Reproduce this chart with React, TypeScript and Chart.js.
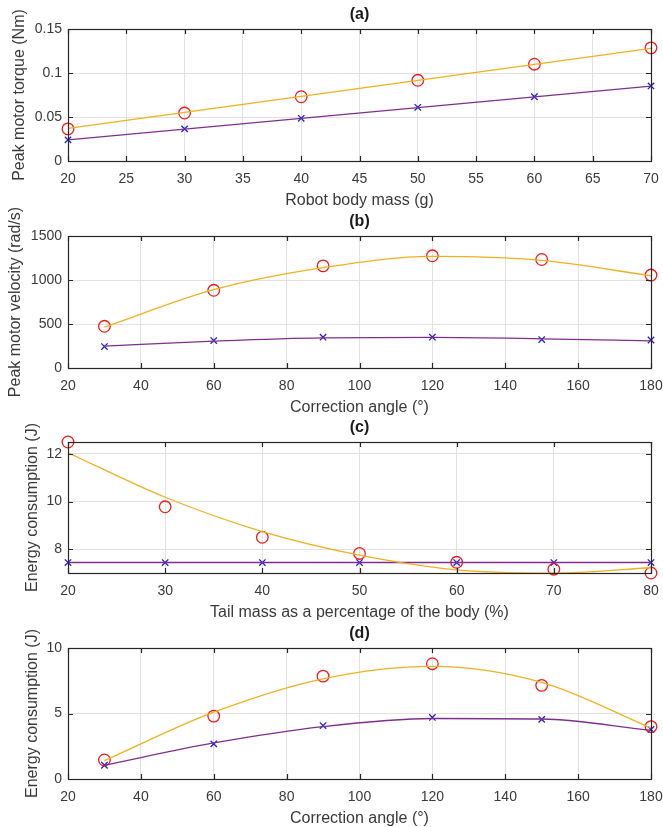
import React, { useEffect, useRef } from "react";
import { Chart, registerables } from "chart.js";

Chart.register(...registerables);

// ---------- (a) Peak motor torque vs robot body mass ----------
const titleA = "(a)";
const xLabelA = "Robot body mass (g)";
const yLabelA = "Peak motor torque (Nm)";
const massX = [20, 30, 40, 50, 60, 70];
const torqueCircles = [0.0365, 0.0545, 0.073, 0.0917, 0.11, 0.1286];
const torqueCrosses = [0.024, 0.0365, 0.0485, 0.061, 0.073, 0.0853];
const torqueFitOrange = [0.037, 0.0552, 0.0734, 0.0916, 0.1098, 0.128];
const torqueFitPurple = [0.024, 0.0362, 0.0484, 0.0606, 0.0728, 0.085];
const xTicksA = [20, 25, 30, 35, 40, 45, 50, 55, 60, 65, 70];
const xTickLabelsA = ["20", "25", "30", "35", "40", "45", "50", "55", "60", "65", "70"];
const yTicksA = [0, 0.05, 0.1, 0.15];
const yTickLabelsA = ["0", "0.05", "0.1", "0.15"];

// ---------- (b) Peak motor velocity vs correction angle ----------
const titleB = "(b)";
const xLabelB = "Correction angle (°)";
const yLabelB = "Peak motor velocity (rad/s)";
const angleX = [30, 60, 90, 120, 150, 180];
const velocityCircles = [474, 883, 1160, 1275, 1233, 1056];
const velocityCrosses = [244, 312, 350, 350, 323, 318];
const velocityFitOrange = [465, 890, 1140, 1268, 1222, 1048];
const velocityFitPurple = [248, 305, 342, 347, 332, 308];
const xTicksAngle = [20, 40, 60, 80, 100, 120, 140, 160, 180];
const xTickLabelsAngle = ["20", "40", "60", "80", "100", "120", "140", "160", "180"];
const yTicksB = [0, 500, 1000, 1500];
const yTickLabelsB = ["0", "500", "1000", "1500"];

// ---------- (c) Energy consumption vs tail mass ----------
const titleC = "(c)";
const xLabelC = "Tail mass as a percentage of the body (%)";
const yLabelC = "Energy consumption (J)";
const tailX = [20, 30, 40, 50, 60, 70, 80];
const energyTailCircles = [12.5, 9.78, 8.5, 7.82, 7.45, 7.16, 7.0];
const energyTailCrosses = [7.44, 7.44, 7.44, 7.44, 7.44, 7.44, 7.44];
const energyTailFitOrange = [12.05, 10.18, 8.74, 7.75, 7.13, 6.99, 7.22];
const energyTailFitPurple = [7.44, 7.44, 7.44, 7.44, 7.44, 7.44, 7.44];
const xTicksC = [20, 30, 40, 50, 60, 70, 80];
const xTickLabelsC = ["20", "30", "40", "50", "60", "70", "80"];
const yTicksC = [8, 10, 12];
const yTickLabelsC = ["8", "10", "12"];

// ---------- (d) Energy consumption vs correction angle ----------
const titleD = "(d)";
const xLabelD = "Correction angle (°)";
const yLabelD = "Energy consumption (J)";
const energyAngleCircles = [1.45, 4.8, 7.85, 8.8, 7.15, 4.0];
const energyAngleCrosses = [1.05, 2.68, 4.08, 4.7, 4.55, 3.78];
const energyAngleFitOrange = [1.4, 5.1, 7.65, 8.6, 7.38, 3.9];
const energyAngleFitPurple = [1.05, 2.75, 4.0, 4.62, 4.58, 3.72];
const yTicksD = [0, 5, 10];
const yTickLabelsD = ["0", "5", "10"];

const ORANGE = "#EDB120";
const PURPLE = "#7E2F8E";
const RED = "#ee1c1c";
const BLUE = "#1f1fd6";
const GRID = "#e2e2e2";
const AXIS = "#262626";
const TEXT = "#3a3a3a";
const FONT = "'Liberation Sans', Arial, Helvetica, sans-serif";

type Panel = {
  title: string;
  xLabel: string;
  yLabel: string;
  xs: number[];
  circles: number[];
  crosses: number[];
  fitOrange: number[];
  fitPurple: number[];
  xMin: number;
  xMax: number;
  xTicks: number[];
  xTickLabels: string[];
  yMin: number;
  yMax: number;
  yTicks: number[];
  yTickLabels: string[];
  smooth: boolean;
};

const panels: Panel[] = [
  {
    title: titleA, xLabel: xLabelA, yLabel: yLabelA, xs: massX,
    circles: torqueCircles, crosses: torqueCrosses, fitOrange: torqueFitOrange, fitPurple: torqueFitPurple,
    xMin: 20, xMax: 70, xTicks: xTicksA, xTickLabels: xTickLabelsA,
    yMin: 0, yMax: 0.15, yTicks: yTicksA, yTickLabels: yTickLabelsA, smooth: false,
  },
  {
    title: titleB, xLabel: xLabelB, yLabel: yLabelB, xs: angleX,
    circles: velocityCircles, crosses: velocityCrosses, fitOrange: velocityFitOrange, fitPurple: velocityFitPurple,
    xMin: 20, xMax: 180, xTicks: xTicksAngle, xTickLabels: xTickLabelsAngle,
    yMin: 0, yMax: 1500, yTicks: yTicksB, yTickLabels: yTickLabelsB, smooth: true,
  },
  {
    title: titleC, xLabel: xLabelC, yLabel: yLabelC, xs: tailX,
    circles: energyTailCircles, crosses: energyTailCrosses, fitOrange: energyTailFitOrange, fitPurple: energyTailFitPurple,
    xMin: 20, xMax: 80, xTicks: xTicksC, xTickLabels: xTickLabelsC,
    yMin: 7.0, yMax: 12.5, yTicks: yTicksC, yTickLabels: yTickLabelsC, smooth: true,
  },
  {
    title: titleD, xLabel: xLabelD, yLabel: yLabelD, xs: angleX,
    circles: energyAngleCircles, crosses: energyAngleCrosses, fitOrange: energyAngleFitOrange, fitPurple: energyAngleFitPurple,
    xMin: 20, xMax: 180, xTicks: xTicksAngle, xTickLabels: xTickLabelsAngle,
    yMin: 0, yMax: 10, yTicks: yTicksD, yTickLabels: yTickLabelsD, smooth: true,
  },
];

// layout of each panel (pixels)
const PAD_TOP = 29;
const PAD_RIGHT = 12;
const X_AXIS_H = 54;
const Y_AXIS_W = 68;
const PLOT_TOPS = [29, 236, 442, 648];
const PLOT_HEIGHTS = [132, 132, 131, 131];
const Y_TITLE_PADS = [10, 6, 23, 23];

const framePlugin = {
  id: "frame",
  afterDraw(chart: any, _args: any, opts: any) {
    const { ctx, chartArea } = chart;
    const { left, right, top, bottom } = chartArea;
    const xs = chart.scales.x;
    const ys = chart.scales.y;
    ctx.save();
    ctx.strokeStyle = AXIS;
    ctx.lineWidth = 1.2;
    ctx.beginPath();
    const tl = 5;
    xs.ticks.forEach((t: any) => {
      const px = Math.round(xs.getPixelForValue(t.value)) + 0.5;
      ctx.moveTo(px, bottom);
      ctx.lineTo(px, bottom - tl);
      ctx.moveTo(px, top);
      ctx.lineTo(px, top + tl);
    });
    ys.ticks.forEach((t: any) => {
      const py = Math.round(ys.getPixelForValue(t.value)) + 0.5;
      ctx.moveTo(left, py);
      ctx.lineTo(left + tl, py);
      ctx.moveTo(right, py);
      ctx.lineTo(right - tl, py);
    });
    ctx.stroke();
    ctx.strokeRect(Math.round(left) + 0.5, Math.round(top) + 0.5, Math.round(right - left), Math.round(bottom - top));
    if (opts && opts.title) {
      ctx.fillStyle = "#1a1a1a";
      ctx.font = `bold 16px ${FONT}`;
      ctx.textAlign = "center";
      ctx.textBaseline = "middle";
      ctx.fillText(opts.title, (left + right) / 2, top - 14);
    }
    ctx.restore();
  },
};

function PanelChart({ p, top, plotH, yPad }: { p: Panel; top: number; plotH: number; yPad: number }) {
  const ref = useRef<HTMLCanvasElement>(null);
  const H = PAD_TOP + plotH + X_AXIS_H;
  useEffect(() => {
    const pts = (ys: number[]) => p.xs.map((x, i) => ({ x, y: ys[i] }));
    const lineCommon = {
      pointRadius: 0,
      borderWidth: 1.3,
      fill: false,
      tension: p.smooth ? 0.4 : 0,
      cubicInterpolationMode: p.smooth ? "monotone" : "default",
    };
    const chart = new Chart(ref.current as HTMLCanvasElement, {
      type: "line",
      data: {
        datasets: [
          { ...lineCommon, data: pts(p.fitOrange), borderColor: ORANGE } as any,
          { ...lineCommon, data: pts(p.fitPurple), borderColor: PURPLE } as any,
          {
            data: pts(p.circles), showLine: false, pointStyle: "circle", pointRadius: 5.8,
            pointBorderColor: RED, pointBackgroundColor: "rgba(0,0,0,0)", pointBorderWidth: 1.3,
            borderColor: RED, clip: false,
          } as any,
          {
            data: pts(p.crosses), showLine: false, pointStyle: "crossRot", pointRadius: 4.5,
            pointBorderColor: BLUE, pointBorderWidth: 1.3, borderColor: BLUE, clip: false,
          } as any,
        ],
      },
      options: {
        responsive: false,
        animation: false,
        events: [],
        layout: { padding: { top: PAD_TOP, right: PAD_RIGHT, left: 0, bottom: 0 } },
        plugins: {
          legend: { display: false },
          tooltip: { enabled: false },
          frame: { title: p.title },
        } as any,
        scales: {
          x: {
            type: "linear",
            min: p.xMin,
            max: p.xMax,
            afterBuildTicks: (s: any) => {
              s.ticks = p.xTicks.map((v) => ({ value: v }));
            },
            afterFit: (s: any) => {
              s.height = X_AXIS_H;
              s.paddingLeft = 0;
              s.paddingRight = 0;
            },
            grid: { color: GRID, drawTicks: false, lineWidth: 1 },
            border: { display: false },
            ticks: {
              padding: 10,
              color: TEXT,
              autoSkip: false,
              maxRotation: 0,
              font: { family: FONT, size: 14 },
              callback: (_v: any, i: number) => p.xTickLabels[i],
            },
            title: {
              display: true,
              text: p.xLabel,
              color: TEXT,
              font: { family: FONT, size: 16 },
              padding: { top: 0, bottom: 5 },
            },
          },
          y: {
            type: "linear",
            min: p.yMin,
            max: p.yMax,
            afterBuildTicks: (s: any) => {
              s.ticks = p.yTicks.map((v) => ({ value: v }));
            },
            afterFit: (s: any) => {
              s.width = Y_AXIS_W;
              s.paddingTop = 0;
              s.paddingBottom = 0;
            },
            grid: { color: GRID, drawTicks: false, lineWidth: 1 },
            border: { display: false },
            ticks: {
              padding: 6,
              color: TEXT,
              autoSkip: false,
              font: { family: FONT, size: 14 },
              callback: (_v: any, i: number) => p.yTickLabels[i],
            },
            title: {
              display: true,
              text: p.yLabel,
              color: TEXT,
              font: { family: FONT, size: 16 },
              padding: { top: yPad, bottom: 0 },
            },
          },
        },
      } as any,
      plugins: [framePlugin],
    });
    return () => chart.destroy();
  }, [p, plotH, yPad]);
  return (
    <canvas
      ref={ref}
      width={663}
      height={H}
      style={{ position: "absolute", left: 0, top: top - PAD_TOP, width: 663, height: H }}
    />
  );
}

export default function App() {
  return (
    <div
      style={{
        position: "absolute",
        left: 0,
        top: 0,
        width: 663,
        height: 827,
        background: "#ffffff",
        overflow: "hidden",
      }}
    >
      {panels.map((p, i) => (
        <PanelChart key={i} p={p} top={PLOT_TOPS[i]} plotH={PLOT_HEIGHTS[i]} yPad={Y_TITLE_PADS[i]} />
      ))}
    </div>
  );
}
